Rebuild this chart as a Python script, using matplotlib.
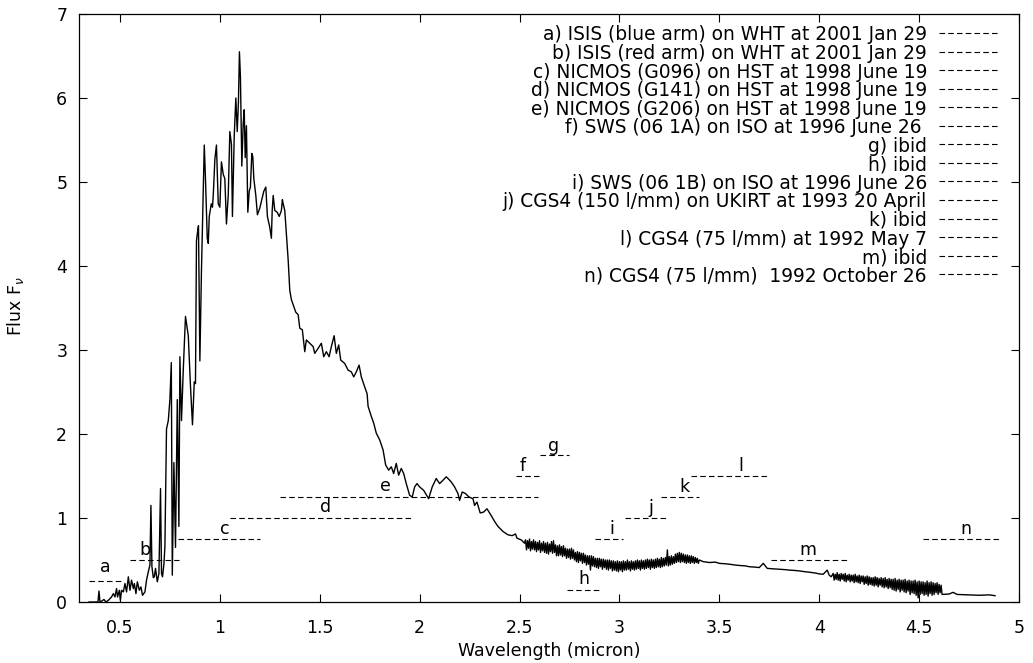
import numpy as np
import matplotlib
matplotlib.use("Agg")
import matplotlib.pyplot as plt

# ---------------- spectrum ----------------
# optical / NICMOS part, explicit samples
opt_wl = [0.345, 0.39, 0.395, 0.40, 0.408, 0.42, 0.43, 0.442, 0.458, 0.467, 0.475, 0.483,
          0.488, 0.497, 0.502, 0.508, 0.517, 0.525, 0.533, 0.542, 0.55, 0.558, 0.567, 0.572,
          0.58, 0.587, 0.597, 0.605, 0.613, 0.625, 0.633, 0.642, 0.65, 0.655, 0.66, 0.667,
          0.672, 0.678, 0.687, 0.695, 0.703, 0.708, 0.713, 0.72, 0.725, 0.733, 0.742, 0.75,
          0.757, 0.762, 0.77, 0.778, 0.787, 0.795, 0.80, 0.808, 0.817, 0.828, 0.842, 0.853,
          0.863, 0.872, 0.878, 0.883, 0.887, 0.893, 0.90, 0.908, 0.917, 0.922, 0.928, 0.937,
          0.942, 0.947, 0.957, 0.963, 0.967, 0.975, 0.983, 0.992, 1.0, 1.008, 1.017, 1.025,
          1.033, 1.042, 1.05, 1.058, 1.063, 1.072, 1.08, 1.087, 1.093, 1.098, 1.103, 1.11,
          1.117, 1.122, 1.127, 1.133, 1.14, 1.147, 1.153, 1.160, 1.165, 1.17, 1.18, 1.188,
          1.20, 1.21, 1.22, 1.23, 1.238, 1.25, 1.258, 1.262, 1.267, 1.275, 1.287, 1.297,
          1.308, 1.313, 1.317, 1.325, 1.333, 1.342, 1.35, 1.358, 1.37, 1.38, 1.392, 1.40,
          1.413, 1.425, 1.433, 1.45, 1.467, 1.475, 1.492, 1.508, 1.52, 1.533, 1.547, 1.558,
          1.572, 1.583, 1.595, 1.605, 1.625, 1.642, 1.658, 1.67, 1.683, 1.697, 1.708, 1.725,
          1.737, 1.742, 1.758, 1.77, 1.783, 1.80, 1.817, 1.83, 1.845, 1.858, 1.87, 1.883,
          1.895, 1.908, 1.92, 1.933, 1.95, 1.963, 1.975, 1.987, 2.0, 2.02, 2.045, 2.063,
          2.083, 2.10, 2.117, 2.133, 2.142, 2.158, 2.175, 2.192, 2.20, 2.213, 2.23, 2.247,
          2.267, 2.275, 2.287, 2.303, 2.32, 2.337, 2.358, 2.375, 2.392, 2.417, 2.442, 2.463,
          2.48, 2.487, 2.508, 2.525]
opt_flux = [0.0, 0.0, 0.13, 0.0, 0.01, 0.03, 0.0, 0.02, 0.06, 0.10, 0.06, 0.16,
            0.06, 0.14, 0.02, 0.14, 0.12, 0.22, 0.12, 0.30, 0.14, 0.26, 0.16, 0.22,
            0.10, 0.24, 0.14, 0.18, 0.08, 0.12, 0.26, 0.36, 0.44, 1.15, 0.42, 0.29,
            0.30, 0.40, 0.24, 0.34, 1.35, 0.34, 0.30, 0.45, 0.66, 2.06, 2.16, 2.41,
            2.85, 0.32, 1.66, 0.65, 2.41, 0.90, 2.92, 2.16, 2.77, 3.40, 3.17, 2.57,
            2.11, 2.62, 2.60, 4.30, 4.38, 4.48, 2.87, 3.95, 4.94, 5.44, 5.04, 4.33,
            4.27, 4.59, 4.74, 4.70, 4.84, 5.27, 5.44, 4.74, 4.70, 5.24, 5.09, 5.04,
            4.50, 4.84, 5.60, 5.45, 4.59, 5.55, 6.00, 5.60, 5.95, 6.55, 6.25, 5.19,
            5.70, 5.86, 5.29, 5.67, 4.64, 4.89, 4.94, 5.34, 5.30, 5.04, 4.84, 4.61,
            4.69, 4.79, 4.89, 4.94, 4.59, 4.46, 4.33, 4.66, 4.84, 4.66, 4.64, 4.59,
            4.66, 4.79, 4.74, 4.66, 4.39, 4.07, 3.71, 3.60, 3.52, 3.45, 3.42, 3.26,
            3.24, 2.98, 3.12, 3.08, 3.04, 2.96, 3.02, 3.08, 2.92, 2.98, 2.92, 3.04,
            3.17, 2.96, 3.06, 2.88, 2.84, 2.76, 2.74, 2.68, 2.74, 2.82, 2.68, 2.56,
            2.48, 2.33, 2.21, 2.13, 2.01, 1.93, 1.81, 1.63, 1.57, 1.61, 1.53, 1.65,
            1.51, 1.59, 1.53, 1.41, 1.27, 1.25, 1.37, 1.41, 1.37, 1.33, 1.23, 1.37,
            1.47, 1.41, 1.45, 1.49, 1.47, 1.43, 1.37, 1.29, 1.21, 1.31, 1.29, 1.25,
            1.23, 1.15, 1.19, 1.06, 1.07, 1.11, 1.03, 0.96, 0.90, 0.84, 0.80, 0.79,
            0.81, 0.76, 0.74, 0.70]

# SWS part (2.530 - 3.400 micron, 0.005 micron sampling)
sws_wl_start, sws_wl_stop = 2.53, 3.40
sws_flux = [0.74, 0.62, 0.73, 0.64, 0.75, 0.61, 0.72, 0.63, 0.74, 0.62,
            0.72, 0.60, 0.71, 0.62, 0.73, 0.59, 0.70, 0.61, 0.72, 0.59,
            0.70, 0.58, 0.71, 0.57, 0.69, 0.60, 0.72, 0.58, 0.73, 0.59,
            0.68, 0.55, 0.67, 0.55, 0.68, 0.56, 0.66, 0.54, 0.67, 0.55,
            0.64, 0.52, 0.63, 0.53, 0.63, 0.51, 0.64, 0.52, 0.62, 0.50,
            0.59, 0.48, 0.60, 0.47, 0.59, 0.49, 0.58, 0.46, 0.58, 0.47,
            0.56, 0.44, 0.55, 0.45, 0.55, 0.38, 0.55, 0.43, 0.54, 0.42,
            0.52, 0.41, 0.52, 0.40, 0.52, 0.42, 0.51, 0.39, 0.51, 0.41,
            0.50, 0.39, 0.50, 0.38, 0.50, 0.40, 0.49, 0.37, 0.49, 0.38,
            0.48, 0.37, 0.49, 0.36, 0.48, 0.38, 0.48, 0.36, 0.49, 0.38,
            0.48, 0.38, 0.50, 0.39, 0.48, 0.37, 0.49, 0.39, 0.48, 0.38,
            0.49, 0.39, 0.50, 0.40, 0.49, 0.38, 0.50, 0.40, 0.49, 0.39,
            0.50, 0.40, 0.51, 0.41, 0.50, 0.39, 0.51, 0.41, 0.50, 0.40,
            0.51, 0.41, 0.52, 0.42, 0.51, 0.41, 0.53, 0.42, 0.52, 0.43,
            0.53, 0.44, 0.62, 0.43, 0.54, 0.44, 0.55, 0.45, 0.54, 0.46,
            0.57, 0.47, 0.58, 0.48, 0.59, 0.47, 0.58, 0.48, 0.57, 0.47,
            0.56, 0.46, 0.56, 0.47, 0.55, 0.46, 0.55, 0.47, 0.54, 0.46,
            0.53, 0.47, 0.52, 0.46, 0.50]

# smoother part 3.42 - 4.06 micron
mid_wl = [3.42, 3.45, 3.48, 3.50, 3.53, 3.55, 3.58, 3.60, 3.63, 3.65, 3.68, 3.70,
          3.72, 3.74, 3.77, 3.80, 3.83, 3.85, 3.88, 3.90, 3.93, 3.95, 3.98, 4.00,
          4.02, 4.04, 4.05, 4.06]
mid_flux = [0.48, 0.47, 0.475, 0.46, 0.455, 0.45, 0.44, 0.435, 0.43, 0.42, 0.415, 0.41,
            0.46, 0.40, 0.395, 0.39, 0.385, 0.38, 0.375, 0.37, 0.36, 0.355, 0.345, 0.335,
            0.33, 0.38, 0.32, 0.30]

# CGS4 part (4.070 - 4.610 micron, 0.005 micron sampling)
cgs_wl_start, cgs_wl_stop = 4.07, 4.61
cgs_flux = [0.34, 0.26, 0.33, 0.27, 0.35, 0.26, 0.33, 0.25, 0.34, 0.27,
            0.33, 0.25, 0.34, 0.24, 0.32, 0.26, 0.33, 0.24, 0.32, 0.25,
            0.32, 0.23, 0.33, 0.24, 0.31, 0.23, 0.32, 0.22, 0.31, 0.24,
            0.31, 0.21, 0.30, 0.22, 0.31, 0.20, 0.30, 0.21, 0.29, 0.20,
            0.29, 0.19, 0.30, 0.20, 0.29, 0.18, 0.28, 0.20, 0.29, 0.18,
            0.28, 0.17, 0.29, 0.18, 0.27, 0.16, 0.28, 0.17, 0.27, 0.15,
            0.27, 0.14, 0.28, 0.13, 0.26, 0.15, 0.27, 0.12, 0.26, 0.14,
            0.26, 0.12, 0.27, 0.11, 0.25, 0.13, 0.26, 0.09, 0.25, 0.11,
            0.25, 0.10, 0.26, 0.08, 0.24, 0.05, 0.25, 0.09, 0.24, 0.10,
            0.24, 0.08, 0.23, 0.09, 0.25, 0.07, 0.23, 0.10, 0.24, 0.08,
            0.23, 0.09, 0.22, 0.11, 0.23, 0.09, 0.21, 0.11, 0.20]

# tail
tail_wl = [4.615, 4.65, 4.67, 4.69, 4.75, 4.80, 4.85, 4.88]
tail_flux = [0.09, 0.095, 0.115, 0.09, 0.085, 0.08, 0.085, 0.075]

# ---------------- coverage ranges ----------------
range_names = ['a', 'b', 'c', 'd', 'e', 'f', 'g', 'h', 'i', 'j', 'k', 'l', 'm', 'n']
range_lo = [0.345, 0.55, 0.79, 1.05, 1.30, 2.48, 2.60, 2.74, 2.88, 3.03, 3.21, 3.36, 3.76, 4.52]
range_hi = [0.515, 0.795, 1.20, 1.955, 2.59, 2.595, 2.75, 2.90, 3.02, 3.235, 3.40, 3.745, 4.15, 4.90]
range_level = [0.25, 0.5, 0.75, 1.0, 1.25, 1.5, 1.75, 0.14, 0.75, 1.0, 1.25, 1.5, 0.5, 0.75]
label_x = [0.427, 0.623, 1.027, 1.527, 1.828, 2.518, 2.671, 2.82, 2.96, 3.157, 3.325, 3.608, 3.943, 4.735]
label_y = [0.36, 0.565, 0.815, 1.07, 1.32, 1.565, 1.80, 0.215, 0.815, 1.06, 1.315, 1.565, 0.565, 0.815]

legend_labels = [
    "a) ISIS (blue arm) on WHT at 2001 Jan 29",
    "b) ISIS (red arm) on WHT at 2001 Jan 29",
    "c) NICMOS (G096) on HST at 1998 June 19",
    "d) NICMOS (G141) on HST at 1998 June 19",
    "e) NICMOS (G206) on HST at 1998 June 19",
    "f) SWS (06 1A) on ISO at 1996 June 26 ",
    "g) ibid",
    "h) ibid",
    "i) SWS (06 1B) on ISO at 1996 June 26",
    "j) CGS4 (150 l/mm) on UKIRT at 1993 20 April",
    "k) ibid",
    "l) CGS4 (75 l/mm) at 1992 May 7",
    "m) ibid",
    "n) CGS4 (75 l/mm)  1992 October 26",
]

xticks = [0.5, 1, 1.5, 2, 2.5, 3, 3.5, 4, 4.5, 5]
xtick_labels = ['0.5', '1', '1.5', '2', '2.5', '3', '3.5', '4', '4.5', '5']
yticks = [0, 1, 2, 3, 4, 5, 6, 7]
ytick_labels = ['0', '1', '2', '3', '4', '5', '6', '7']

# ---------------- assemble spectrum ----------------
sws_wl = np.linspace(sws_wl_start, sws_wl_stop, len(sws_flux))
cgs_wl = np.linspace(cgs_wl_start, cgs_wl_stop, len(cgs_flux))
wl = np.concatenate([opt_wl, sws_wl, mid_wl, cgs_wl, tail_wl])
flux = np.concatenate([opt_flux, sws_flux, mid_flux, cgs_flux, tail_flux])

plt.rcParams['font.family'] = ['DejaVu Sans']
plt.rcParams['lines.scale_dashes'] = False
FS = 12.5
FS_KEY = 13.4

fig = plt.figure(figsize=(10.33, 6.63), dpi=100)
ax = fig.add_axes([79 / 1033, 1 - 602 / 663, 940 / 1033, 588 / 663])

ax.plot(wl, flux, color='black', lw=1.0)

dash = (0, (4.0, 2.3))
for lo, hi, lev in zip(range_lo, range_hi, range_level):
    ax.plot([lo, hi], [lev, lev], color='black', lw=0.8, linestyle=dash)
for name, lx, ly in zip(range_names, label_x, label_y):
    ax.text(lx, ly, name, ha='center', va='baseline', fontsize=FS)

# key (top right, text right-aligned, dashed sample on the right)
row0 = (602 - 33) / 588
row_step = 18.55 / 588
for i, lab in enumerate(legend_labels):
    y = row0 - i * row_step
    ax.text(0.902, y, lab, transform=ax.transAxes, ha='right', va='center_baseline',
            fontsize=FS_KEY)
    ax.plot([0.915, 0.978], [y, y], transform=ax.transAxes, color='black', lw=0.8,
            linestyle=dash)

ax.set_xlim(0.295, 5.0)
ax.set_ylim(0, 7)
ax.set_xticks(xticks)
ax.set_xticklabels(xtick_labels)
ax.set_yticks(yticks)
ax.set_yticklabels(ytick_labels)
ax.tick_params(direction='in', top=True, right=True, length=6, width=0.8,
               labelsize=FS)
ax.tick_params(axis='x', pad=12)
ax.tick_params(axis='y', pad=8.5)
for s in ax.spines.values():
    s.set_linewidth(0.9)

ax.set_xlabel('Wavelength (micron)', fontsize=FS, labelpad=4)
fig.text(16 / 1033, 1 - 306 / 663, r'Flux F$_\nu$', rotation=90, ha='center', va='center',
         fontsize=FS)

fig.savefig('out.png', dpi=100)
